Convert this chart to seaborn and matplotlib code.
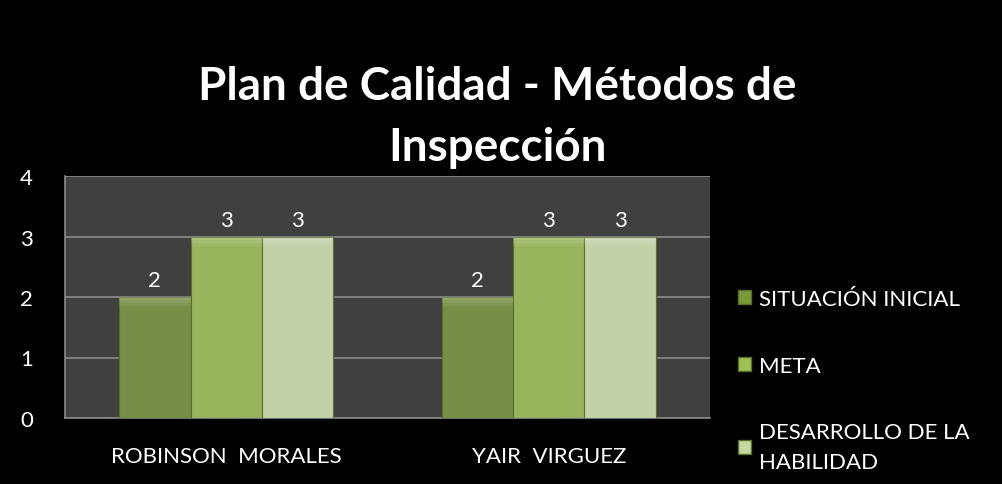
import matplotlib
matplotlib.use("Agg")
import matplotlib.pyplot as plt
from matplotlib.patches import Patch, Rectangle
import pandas as pd
import seaborn as sns

personas = ["ROBINSON  MORALES", "YAIR  VIRGUEZ"]
series = ["SITUACIÓN INICIAL", "META", "DESARROLLO DE LA\nHABILIDAD"]
situacion_inicial = [2, 2]
meta = [3, 3]
desarrollo = [3, 3]
colores = ["#7a9a3a", "#9dc24f", "#c4d8a0"]

df = pd.DataFrame({
    "persona": personas * 3,
    "serie": [s for s in series for _ in personas],
    "valor": situacion_inicial + meta + desarrollo,
})

sns.set_theme(style="dark")
plt.rcParams["font.family"] = ["Lato", "DejaVu Sans"]

fig = plt.figure(figsize=(10.03, 4.85), dpi=100, facecolor="black")
ax = fig.add_axes([65 / 1003, 1 - 419 / 485, 645 / 1003, 242 / 485])
ax.set_facecolor("#404040")

sns.barplot(data=df, x="persona", y="valor", hue="serie", palette=colores,
            width=0.665, gap=0.0, edgecolor="#5a6e2c", linewidth=0.8,
            ax=ax, legend=False, zorder=3)

# soft bevel on top of each bar
for p in list(ax.patches):
    x0, w, h = p.get_x(), p.get_width(), p.get_height()
    for k, a in enumerate([0.20, 0.13, 0.07]):
        ax.add_patch(Rectangle((x0, h - 0.05 * (k + 1)), w, 0.05,
                               facecolor="white", alpha=a, linewidth=0,
                               zorder=4))

for cont in ax.containers:
    ax.bar_label(cont, padding=5, color="white", fontsize=16)

ax.set_ylim(0, 4)
ax.set_yticks([0, 1, 2, 3, 4])
ax.yaxis.grid(True, color="#8a8a8a", linewidth=1.2, zorder=0)
ax.xaxis.grid(False)
ax.set_axisbelow(True)
for side in ["top", "right"]:
    ax.spines[side].set_visible(False)
for side in ["left", "bottom"]:
    ax.spines[side].set_visible(True)
    ax.spines[side].set_color("#8a8a8a")
    ax.spines[side].set_linewidth(1.2)
ax.tick_params(axis="y", colors="white", labelsize=16, pad=23, length=0)
ax.tick_params(axis="x", colors="white", labelsize=16, pad=20, length=0)
ax.set_xlabel("")
ax.set_ylabel("")

fig.text(0.496, 1 - 161 / 485, "Plan de Calidad - Métodos de\nInspección",
         ha="center", va="baseline", color="white", fontsize=33,
         fontweight="bold", linespacing=1.57)

handles = [Patch(facecolor=c, edgecolor="#5a6e2c") for c in colores]
leg = fig.legend(handles, series, loc="upper left",
                 bbox_to_anchor=(729 / 1003, 1 - 281 / 485),
                 frameon=False, fontsize=16, labelcolor="white",
                 handlelength=0.6, handleheight=0.6, handletextpad=0.35,
                 labelspacing=2.1, borderaxespad=0)
for t in leg.get_texts():
    t.set_linespacing(1.6)

fig.savefig("out.png", dpi=100, facecolor="black")
